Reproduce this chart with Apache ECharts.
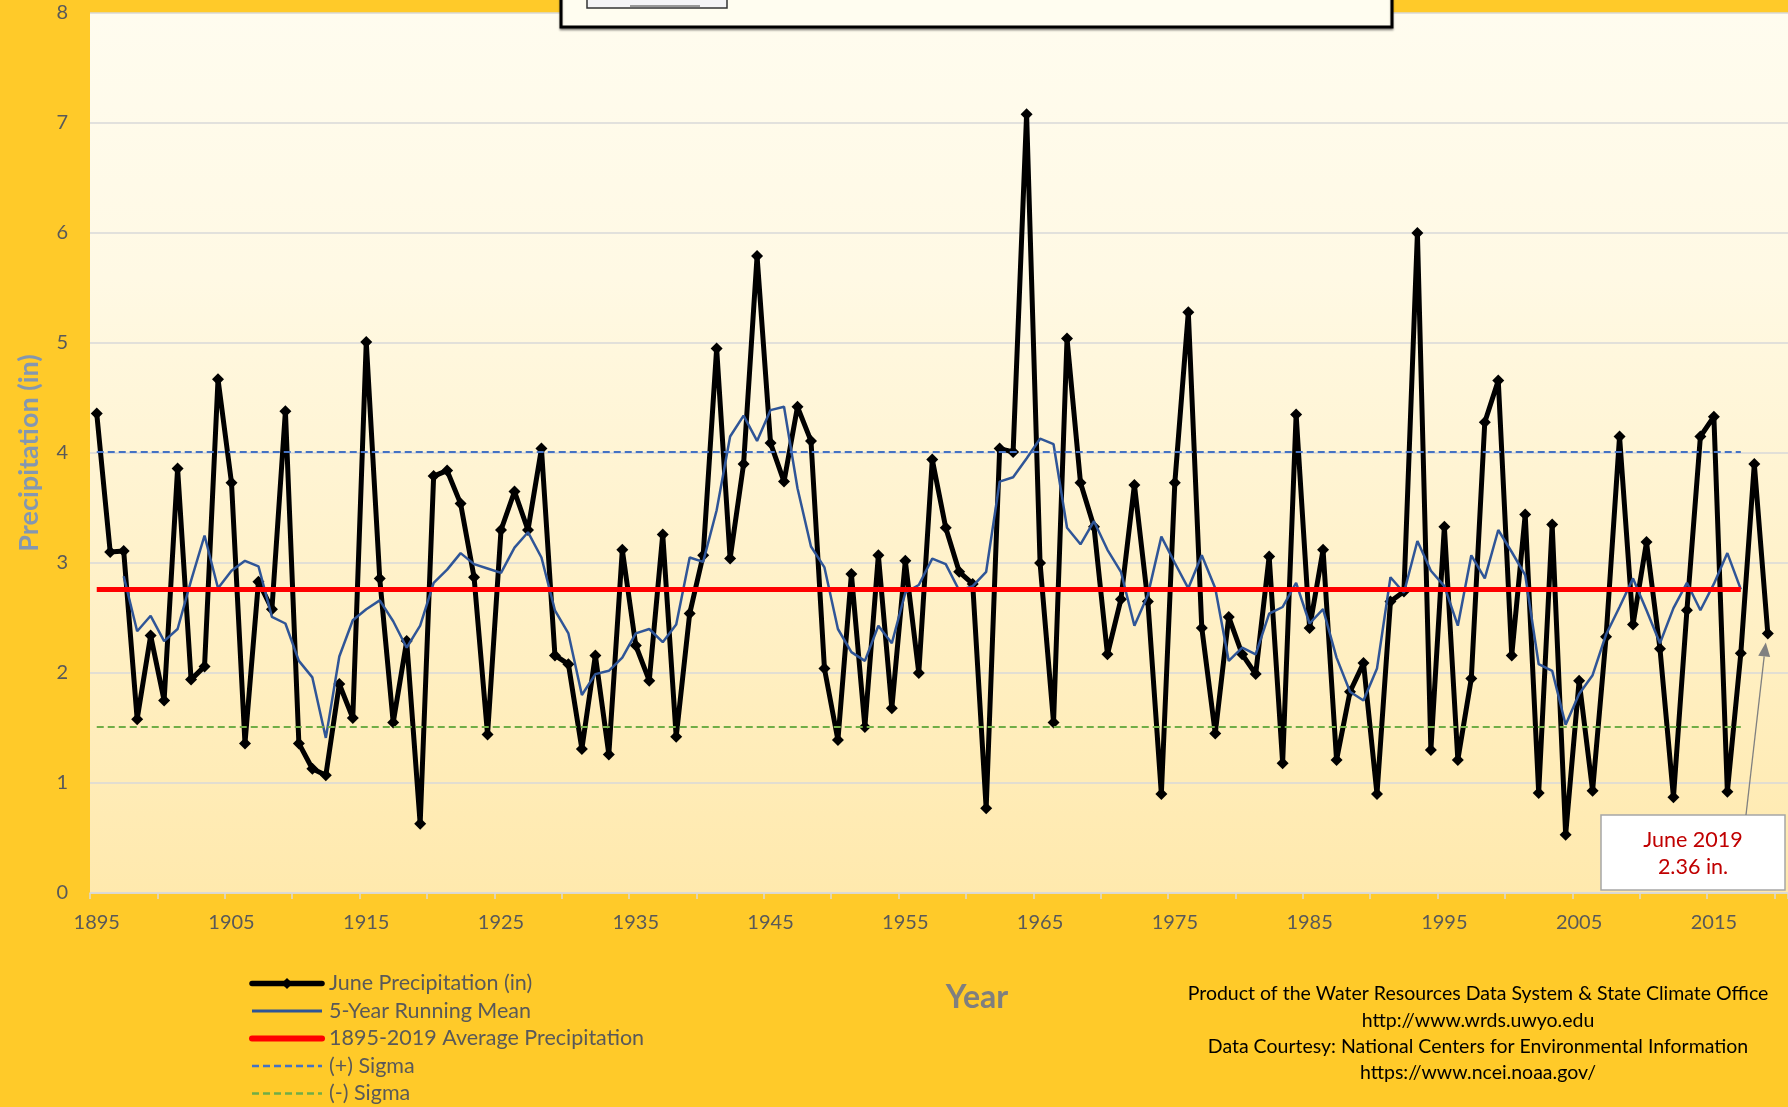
<!DOCTYPE html>
<html>
<head>
<meta charset="utf-8">
<script src="https://cdn.jsdelivr.net/npm/echarts@6/dist/echarts.min.js"></script>
<style>
html,body{margin:0;padding:0;background:#FFCA29;}
#chart{width:1788px;height:1107px;}
</style>
</head>
<body>
<div id="chart"></div>
<script>
// ---- Data ----
const startYear = 1895;
const endYear = 2019;
const years = [];
for (let y = startYear; y <= endYear; y++) years.push(String(y));

// June precipitation (in), 1895-2019
const precip = [
  4.36, 3.10, 3.11, 1.58, 2.34, 1.75, 3.86, 1.94, 2.06, 4.67,
  3.73, 1.36, 2.83, 2.58, 4.38, 1.36, 1.13, 1.07, 1.90, 1.59,
  5.01, 2.86, 1.55, 2.29, 0.63, 3.79, 3.84, 3.54, 2.87, 1.44,
  3.30, 3.65, 3.30, 4.04, 2.16, 2.08, 1.31, 2.16, 1.26, 3.12,
  2.25, 1.93, 3.26, 1.42, 2.54, 3.07, 4.95, 3.04, 3.90, 5.79,
  4.09, 3.74, 4.42, 4.11, 2.04, 1.39, 2.90, 1.51, 3.07, 1.68,
  3.02, 2.00, 3.94, 3.32, 2.92, 2.81, 0.77, 4.04, 4.01, 7.08,
  3.00, 1.55, 5.04, 3.73, 3.33, 2.17, 2.67, 3.71, 2.65, 0.90,
  3.73, 5.28, 2.41, 1.45, 2.51, 2.17, 1.99, 3.06, 1.18, 4.35,
  2.41, 3.12, 1.21, 1.83, 2.09, 0.90, 2.65, 2.74, 6.00, 1.30,
  3.33, 1.21, 1.95, 4.28, 4.66, 2.16, 3.44, 0.91, 3.35, 0.53,
  1.93, 0.93, 2.33, 4.15, 2.44, 3.19, 2.22, 0.87, 2.57, 4.15,
  4.33, 0.92, 2.18, 3.90, 2.36
];

// 5-year running mean (centered); null where not drawn
const runMean = [
  null, null,
  2.88, 2.38, 2.52, 2.29, 2.40, 2.84, 3.25, 2.77, 2.93, 3.02, 2.97, 2.51, 2.45, 2.11, 1.96, 1.41, 2.15, 2.48, 2.58, 2.66,
  2.47, 2.23, 2.43, 2.82, 2.94, 3.09, 2.99, 2.95, 2.91, 3.14, 3.28, 3.05, 2.57, 2.36, 1.80, 1.99, 2.02, 2.14, 2.36, 2.40,
  2.28, 2.44, 3.05, 3.01, 3.48, 4.15, 4.34, 4.11, 4.39, 4.42, 3.68, 3.15, 2.96, 2.40, 2.19, 2.11, 2.43, 2.27, 2.73, 2.80,
  3.04, 2.99, 2.75, 2.79, 2.92, 3.74, 3.78, 3.95, 4.13, 4.08, 3.32, 3.17, 3.38, 3.12, 2.92, 2.43, 2.71, 3.24, 3.00, 2.77, 3.07,
  2.77, 2.11, 2.23, 2.17, 2.54, 2.60, 2.82, 2.45, 2.58, 2.14, 1.83, 1.75, 2.04, 2.87, 2.73, 3.20, 2.93, 2.79, 2.43, 3.07,
  2.86, 3.30, 3.10, 2.89, 2.08, 2.02, 1.53, 1.81, 1.98, 2.35, 2.60, 2.86, 2.57, 2.27, 2.59, 2.82, 2.57, 2.81, 3.09, 2.76,
  null, null
];

// Reference levels (drawn 1895-2017 in the picture)
const avgPrecip = 2.76;
const plusSigma = 4.01;
const minusSigma = 1.51;
const refLineLastYear = 2017;

const axisYears = years.concat(['2020']); // empty slot so the plot reaches the right edge

function levelSeries(v) {
  return years.map(y => (Number(y) <= refLineLastYear ? v : null));
}

const FONT = 'Lato, "Open Sans", sans-serif';
const NOSYM = {color: 'rgba(0,0,0,0)', borderWidth: 0, borderColor: 'rgba(0,0,0,0)'};

const chart = echarts.init(document.getElementById('chart'), null, {renderer: 'canvas'});

const option = {
  backgroundColor: '#FFCA29',
  animation: false,
  textStyle: {fontFamily: FONT},
  grid: {
    left: 90, right: 0, top: 13, bottom: 214,
    outerBoundsMode: 'none',
    containLabel: false,
    show: true, borderWidth: 0,
    backgroundColor: new echarts.graphic.LinearGradient(0, 0, 0, 1, [
      {offset: 0, color: '#FFFCEF'},
      {offset: 0.3, color: '#FFF9E4'},
      {offset: 1, color: '#FFE9AD'}
    ])
  },
  legend: {
    orient: 'vertical',
    left: 249, top: 972, height: 200,
    padding: 0,
    itemWidth: 70, itemHeight: 14, itemGap: 4.5,
    textStyle: {color: '#595959', fontSize: 21.5, lineHeight: 23, fontFamily: FONT, padding: [0, 0, 0, 2]},
    data: [
      {name: 'June Precipitation (in)', lineStyle: {width: 5.5, cap: 'round'}},
      {name: '5-Year Running Mean', itemStyle: NOSYM, lineStyle: {width: 3}},
      {name: '1895-2019 Average Precipitation', itemStyle: NOSYM, lineStyle: {width: 6, cap: 'round'}},
      {name: '(+) Sigma', itemStyle: NOSYM, lineStyle: {width: 2.5}},
      {name: '(-) Sigma', itemStyle: NOSYM, lineStyle: {width: 2.5}}
    ]
  },
  xAxis: {
    type: 'category',
    data: axisYears,
    boundaryGap: true,
    axisLine: {lineStyle: {color: '#D9D9D9', width: 1.5}},
    axisTick: {show: true, interval: 4, length: 6, lineStyle: {color: '#D9D9D9', width: 1.5}},
    axisLabel: {interval: 9, color: '#595959', fontSize: 20, margin: 20, fontFamily: FONT},
    splitLine: {show: false}
  },
  yAxis: {
    type: 'value',
    min: 0, max: 8, interval: 1,
    axisLine: {show: false},
    axisTick: {show: false},
    axisLabel: {color: '#595959', fontSize: 20, margin: 22, fontFamily: FONT},
    splitLine: {lineStyle: {color: '#D9D9D9', width: 1.5}},
    name: 'Precipitation (in)',
    nameLocation: 'middle',
    nameRotate: 90,
    nameGap: 47,
    nameTextStyle: {color: '#8497B0', fontSize: 27, fontWeight: 'bold', fontFamily: FONT}
  },
  series: [
    {
      name: 'June Precipitation (in)', type: 'line', data: precip,
      symbol: 'diamond', symbolSize: 12, showSymbol: true, showAllSymbol: true,
      itemStyle: {color: '#000000'},
      lineStyle: {color: '#000000', width: 5},
      z: 2
    },
    {
      name: '5-Year Running Mean', type: 'line', data: runMean,
      symbol: 'none', connectNulls: false,
      itemStyle: {color: '#2F5597'},
      lineStyle: {color: '#2F5597', width: 2.5},
      z: 3
    },
    {
      name: '1895-2019 Average Precipitation', type: 'line', data: levelSeries(avgPrecip),
      symbol: 'none',
      itemStyle: {color: '#FF0000'},
      lineStyle: {color: '#FF0000', width: 5},
      z: 4
    },
    {
      name: '(+) Sigma', type: 'line', data: levelSeries(plusSigma),
      symbol: 'none',
      itemStyle: {color: '#4472C4'},
      lineStyle: {color: '#4472C4', width: 2, type: [7, 4]},
      z: 4
    },
    {
      name: '(-) Sigma', type: 'line', data: levelSeries(minusSigma),
      symbol: 'none',
      itemStyle: {color: '#70AD47'},
      lineStyle: {color: '#70AD47', width: 2, type: [7, 4]},
      z: 4
    }
  ]
};
chart.setOption(option);

// annotation arrow tip from the library's own scales
const tip = chart.convertToPixel({xAxisIndex: 0, yAxisIndex: 0}, [years[years.length - 1], precip[precip.length - 1]]);
const tipX = tip[0] - 2, tipY = tip[1] + 9;
const tailX = 1746, tailY = 815;
const ang = Math.atan2(tipY - tailY, tipX - tailX);
const ah = 14, aw = 6;
const bx = tipX - ah * Math.cos(ang), by = tipY - ah * Math.sin(ang);
const px = -Math.sin(ang), py = Math.cos(ang);

chart.setOption({
  graphic: [
    // cropped title box at top
    {type: 'rect', shape: {x: 561, y: -12, width: 831, height: 39},
     style: {fill: '#FFFDF0', stroke: '#000000', lineWidth: 3, shadowColor: 'rgba(0,0,0,0.35)', shadowOffsetY: 2, shadowBlur: 2}, z: 100},
    {type: 'rect', shape: {x: 587, y: -10, width: 140, height: 18},
     style: {fill: '#F4F4F6', stroke: '#333333', lineWidth: 1.5}, z: 101},
    {type: 'line', shape: {x1: 630, y1: 6, x2: 700, y2: 6}, style: {stroke: '#999999', lineWidth: 2}, z: 102},
    // x axis title
    {type: 'text', style: {text: 'Year', x: 977, y: 998, align: 'center', verticalAlign: 'middle',
      fill: '#7F7F7F', font: 'bold 32px ' + FONT}, z: 100},
    // credits
    {type: 'text', style: {
      text: 'Product of the Water Resources Data System & State Climate Office\nhttp://www.wrds.uwyo.edu\nData Courtesy: National Centers for Environmental Information\nhttps://www.ncei.noaa.gov/',
      x: 1478, y: 981, align: 'center', verticalAlign: 'top', lineHeight: 26.3,
      fill: '#000000', font: '19.5px ' + FONT}, z: 100},
    // annotation box
    {type: 'rect', shape: {x: 1601, y: 815, width: 184, height: 75},
     style: {fill: '#FFFFFF', stroke: '#A6A6A6', lineWidth: 1.5}, z: 100},
    {type: 'text', style: {text: 'June 2019\n2.36 in.', x: 1693, y: 854, align: 'center', verticalAlign: 'middle',
      lineHeight: 27, fill: '#C00000', font: '21.5px ' + FONT}, z: 101},
    // arrow
    {type: 'line', shape: {x1: tailX, y1: tailY, x2: bx, y2: by}, style: {stroke: '#808080', lineWidth: 1.3}, z: 101},
    {type: 'polygon', shape: {points: [[tipX, tipY], [bx + px * aw, by + py * aw], [bx - px * aw, by - py * aw]]},
     style: {fill: '#808080'}, z: 101}
  ]
});
</script>
</body>
</html>
